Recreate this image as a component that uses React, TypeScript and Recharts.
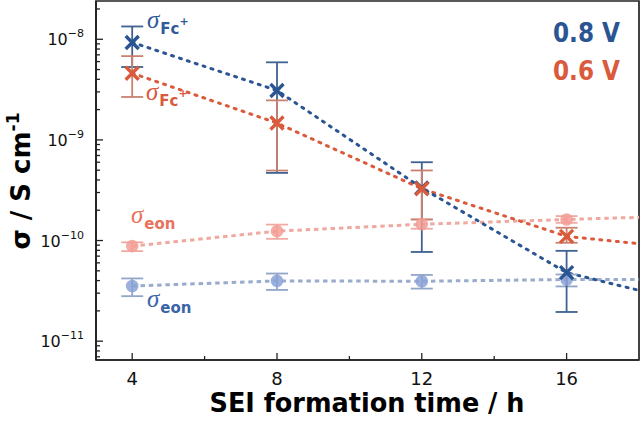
import React from "react";
import {
  ComposedChart,
  Line,
  Scatter,
  XAxis,
  YAxis,
  ErrorBar,
  ReferenceArea,
} from "recharts";

// SEI formation time (h)
const hours = [4, 8, 12, 16];
const trendHours = [4, 8, 12, 16, 18];
const xTicks = [4, 6, 8, 10, 12, 14, 16];

// Fc+ conductivity at 0.8 V (S/cm)
const fc08 = [9.3e-9, 3.1e-9, 3.33e-10, 4.8e-11];
const fc08Low = [5.3e-9, 4.7e-10, 7.7e-11, 1.95e-11];
const fc08High = [1.34e-8, 5.9e-9, 6.0e-10, 7.9e-11];
const fc08Trend = [9.3e-9, 3.1e-9, 3.33e-10, 4.8e-11, 3.2e-11];

// Fc+ conductivity at 0.6 V
const fc06 = [4.6e-9, 1.47e-9, 3.27e-10, 1.1e-10];
const fc06Low = [2.67e-9, 4.96e-10, 1.62e-10, 9.5e-11];
const fc06High = [6.8e-9, 2.47e-9, 4.97e-10, 1.34e-10];
const fc06Trend = [4.6e-9, 1.47e-9, 3.27e-10, 1.1e-10, 9.3e-11];

// electronic conductivity at 0.6 V
const eon06 = [8.8e-11, 1.24e-10, 1.45e-10, 1.62e-10];
const eon06Low = [7.85e-11, 1.04e-10, 1.31e-10, 1.5e-10];
const eon06High = [9.6e-11, 1.44e-10, 1.62e-10, 1.75e-10];
const eon06Trend = [8.8e-11, 1.24e-10, 1.45e-10, 1.62e-10, 1.7e-10];

// electronic conductivity at 0.8 V
const eon08 = [3.53e-11, 3.97e-11, 3.94e-11, 4.1e-11];
const eon08Low = [2.8e-11, 3.23e-11, 3.33e-11, 3.5e-11];
const eon08High = [4.2e-11, 4.7e-11, 4.55e-11, 4.6e-11];
const eon08Trend = [3.53e-11, 3.97e-11, 3.94e-11, 4.1e-11, 4.1e-11];

const yDomain = [6.5e-12, 2.4e-8];
const yTicks: number[] = [];
for (let e = -12; e <= -8; e++) {
  for (let m = 1; m <= 9; m++) {
    const v = m * Math.pow(10, e);
    if (v >= yDomain[0] && v <= yDomain[1]) yTicks.push(v);
  }
}

const BLUE = "#2b5592";
const BLUE_BAR = "#3f6290";
const RED = "#da5a3c";
const RED_BAR = "#c9826f";
const EON_RED = "#f39d95";
const EON_RED_BAR = "#f0aaa2";
const EON_RED_LINE = "#eeaaa0";
const EON_BLUE = "#8aa2d6";
const EON_BLUE_BAR = "#93a6c8";
const EON_BLUE_LINE = "#9aaccc";

const points = (vals: number[], low: number[], high: number[]) =>
  hours.map((h, i) => ({
    h,
    v: vals[i],
    err: [vals[i] - low[i], high[i] - vals[i]],
  }));

const trend = (vals: number[]) => trendHours.map((h, i) => ({ h, v: vals[i] }));

const crossShape = (color: string) => (p: any) => {
  const { cx, cy } = p;
  const s = 6.5;
  return (
    <path
      d={`M${cx - s},${cy - s}L${cx + s},${cy + s}M${cx - s},${cy + s}L${cx + s},${cy - s}`}
      stroke={color}
      strokeWidth={3.4}
      fill="none"
    />
  );
};

const dotShape = (color: string) => (p: any) => (
  <circle cx={p.cx} cy={p.cy} r={6.3} fill={color} fillOpacity={0.85} />
);

const YTick = (p: any) => {
  const { x, y, payload } = p;
  const v = payload.value as number;
  const exp = Math.round(Math.log10(v));
  const major = Math.abs(v / Math.pow(10, exp) - 1) < 1e-6;
  return (
    <g>
      <line x1={x} x2={x + (major ? 7 : 4)} y1={y} y2={y} stroke="#222" strokeWidth={1.3} />
      {major && (
        <text x={x - 12} y={y + 6} textAnchor="end" fontSize={16} fontFamily="DejaVu Sans" fill="#111">
          10
          <tspan fontSize={11} dy={-8}>
            {"\u2212" + -exp}
          </tspan>
        </text>
      )}
    </g>
  );
};

const XTick = (p: any) => {
  const { x, y, payload } = p;
  const major = payload.value % 4 === 0;
  return (
    <g>
      <line x1={x} x2={x} y1={y} y2={y - (major ? 7 : 4)} stroke="#222" strokeWidth={1.3} />
      {major && (
        <text x={x} y={y + 25} textAnchor="middle" fontSize={18} fontFamily="DejaVu Sans" fill="#111">
          {payload.value}
        </text>
      )}
    </g>
  );
};

const Sigma = ({ x, y, sub, sup, color }: { x: number; y: number; sub: string; sup?: string; color: string }) => (
  <text x={x} y={y} fill={color}>
    <tspan fontFamily="Liberation Serif" fontStyle="italic" fontSize={25}>
      σ
    </tspan>
    <tspan fontFamily="DejaVu Sans" fontWeight="bold" fontSize={15} dx={1} dy={6}>
      {sub}
    </tspan>
    {sup && (
      <tspan fontFamily="DejaVu Sans" fontWeight="bold" fontSize={11} dy={-9}>
        {sup}
      </tspan>
    )}
  </text>
);

export default function App() {
  return (
    <div style={{ position: "absolute", left: 0, top: 0, width: 644, height: 422, background: "#fff" }}>
      <ComposedChart width={644} height={422} margin={{ top: 1, right: 5, bottom: 0, left: 0 }}>
        <XAxis
          dataKey="h"
          type="number"
          domain={[3, 18]}
          ticks={xTicks}
          interval={0}
          height={62}
          tickSize={0}
          tickMargin={0}
          tickLine={false}
          tick={<XTick />}
          axisLine={{ stroke: "#222", strokeWidth: 1.7 }}
          allowDataOverflow
        />
        <YAxis
          type="number"
          scale="log"
          domain={yDomain}
          ticks={yTicks}
          interval={0}
          width={96}
          tickSize={0}
          tickMargin={0}
          tickLine={false}
          tick={<YTick />}
          axisLine={{ stroke: "#222", strokeWidth: 1.7 }}
          allowDataOverflow
        />
        <ReferenceArea x1={3} x2={18} y1={yDomain[0]} y2={yDomain[1]} fill="none" stroke="#222" strokeWidth={1.7} />

        <Line data={trend(eon06Trend)} dataKey="v" type="linear" stroke={EON_RED_LINE} strokeWidth={3} strokeDasharray="4.5 3.8" dot={false} isAnimationActive={false} />
        <Line data={trend(eon08Trend)} dataKey="v" type="linear" stroke={EON_BLUE_LINE} strokeWidth={3} strokeDasharray="4.5 3.8" dot={false} isAnimationActive={false} />
        <Line data={trend(fc06Trend)} dataKey="v" type="linear" stroke={RED} strokeWidth={3} strokeDasharray="2 6.3" strokeLinecap="round" dot={false} isAnimationActive={false} />
        <Line data={trend(fc08Trend)} dataKey="v" type="linear" stroke={BLUE} strokeWidth={3} strokeDasharray="2 6.3" strokeLinecap="round" dot={false} isAnimationActive={false} />

        <Scatter data={points(eon06, eon06Low, eon06High)} dataKey="v" shape={dotShape(EON_RED)} isAnimationActive={false}>
          <ErrorBar dataKey="err" direction="y" width={11} stroke={EON_RED_BAR} strokeWidth={1.8} isAnimationActive={false} />
        </Scatter>
        <Scatter data={points(eon08, eon08Low, eon08High)} dataKey="v" shape={dotShape(EON_BLUE)} isAnimationActive={false}>
          <ErrorBar dataKey="err" direction="y" width={11} stroke={EON_BLUE_BAR} strokeWidth={1.8} isAnimationActive={false} />
        </Scatter>
        <Scatter data={points(fc08, fc08Low, fc08High)} dataKey="v" shape={crossShape(BLUE)} isAnimationActive={false}>
          <ErrorBar dataKey="err" direction="y" width={11} stroke={BLUE_BAR} strokeWidth={1.8} isAnimationActive={false} />
        </Scatter>
        <Scatter data={points(fc06, fc06Low, fc06High)} dataKey="v" shape={crossShape(RED)} isAnimationActive={false}>
          <ErrorBar dataKey="err" direction="y" width={11} stroke={RED_BAR} strokeWidth={1.8} isAnimationActive={false} />
        </Scatter>
      </ComposedChart>

      <svg width={644} height={422} style={{ position: "absolute", left: 0, top: 0, pointerEvents: "none" }}>
        <text
          x={367}
          y={412}
          textAnchor="middle"
          fontFamily="DejaVu Sans"
          fontWeight="bold"
          fontSize={27}
          textLength={315}
          lengthAdjust="spacingAndGlyphs"
          fill="#000"
        >
          SEI formation time / h
        </text>
        <text
          transform="translate(30,181) rotate(-90)"
          textAnchor="middle"
          fontFamily="DejaVu Sans"
          fontWeight="bold"
          fontSize={26}
          fill="#000"
        >
          σ / S cm
          <tspan fontSize={17} dy={-11}>
            -1
          </tspan>
        </text>

        <text x={553} y={42} fontFamily="DejaVu Sans" fontWeight="bold" fontSize={26} textLength={67} lengthAdjust="spacingAndGlyphs" fill={BLUE}>
          0.8 V
        </text>
        <text x={553} y={80} fontFamily="DejaVu Sans" fontWeight="bold" fontSize={26} textLength={67} lengthAdjust="spacingAndGlyphs" fill={RED}>
          0.6 V
        </text>

        <Sigma x={147} y={28} sub="Fc" sup="+" color="#2f5a9c" />
        <Sigma x={146} y={100} sub="Fc" sup="+" color={RED} />
        <Sigma x={131} y={223} sub="eon" color="#e8735d" />
        <Sigma x={147} y={307} sub="eon" color="#3a64a8" />
      </svg>
    </div>
  );
}
